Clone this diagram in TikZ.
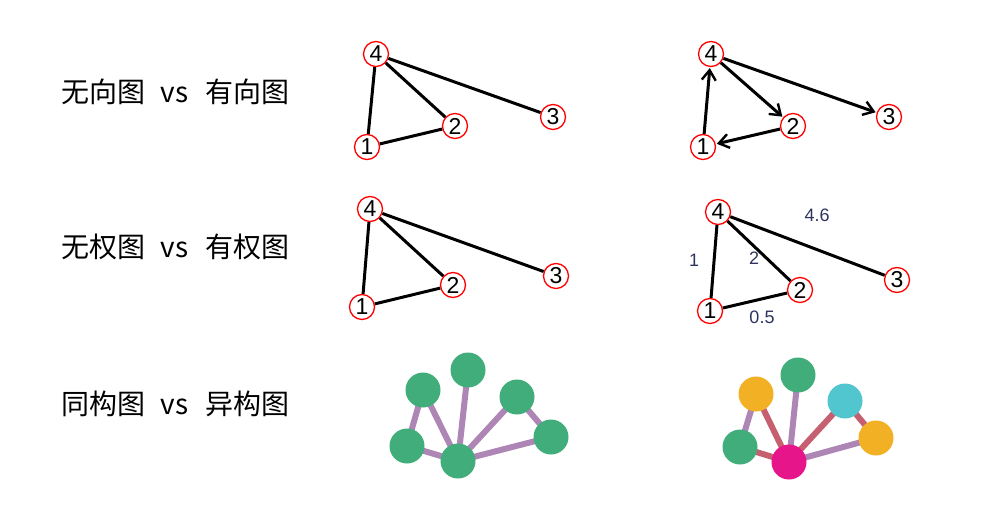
\documentclass[tikz,border=0pt]{standalone}
\usepackage{fontspec}
\setmainfont{Liberation Sans}
\newfontfamily\cjk{Noto Sans CJK SC}
\usetikzlibrary{arrows.meta}
\definecolor{gnode}{HTML}{41AD7A}
\definecolor{pedge}{HTML}{AE86B6}
\definecolor{redge}{HTML}{C65F70}
\definecolor{ynode}{HTML}{F2B124}
\definecolor{cnode}{HTML}{52C6CF}
\definecolor{mnode}{HTML}{E7158A}
\definecolor{wlab}{HTML}{2E3460}
\tikzset{
  vx/.style={circle,draw=red,line width=1.3pt,fill=white,minimum size=25pt,inner sep=0pt,font=\fontsize{23}{23}\selectfont},
  ed/.style={line width=3pt,black},
  ar/.style={ed,-{Straight Barb[length=10pt,width=14pt,line width=2.4pt]},shorten >=1pt},
  title/.style={anchor=west,font=\cjk\fontsize{28}{28}\selectfont},
  wl/.style={text=wlab,font=\fontsize{18}{18}\selectfont},
  ball/.style={circle,minimum size=35pt,inner sep=0pt},
  pe/.style={line width=6pt,pedge},
  re/.style={line width=6pt,redge}
}
\newcommand{\vsgap}[3]{#1\hspace{15pt}vs\hspace{17pt}#3}
\begin{document}
\begin{tikzpicture}[x=1pt,y=-1pt]
\useasboundingbox (0,0) rectangle (982,532);
% titles
\node[title] (t1) at (58,92) {\vsgap{无向图}{}{有向图}};
\node[title] (t2) at (58,247) {\vsgap{无权图}{}{有权图}};
\node[title] (t3) at (58,404) {\vsgap{同构图}{}{异构图}};
% undirected
\node[vx] (a4) at (376,54) {4};
\node[vx] (a1) at (367,147) {1};
\node[vx] (a2) at (455,126) {2};
\node[vx] (a3) at (553,117) {3};
\draw[ed] (a4)--(a1); \draw[ed] (a4)--(a2); \draw[ed] (a4)--(a3); \draw[ed] (a1)--(a2);
% directed
\node[vx] (b4) at (711,54) {4};
\node[vx] (b1) at (703,147) {1};
\node[vx] (b2) at (793,126) {2};
\node[vx] (b3) at (889,117) {3};
\draw[ar] (b1)--(b4); \draw[ar] (b4)--(b2); \draw[ar] (b4)--(b3); \draw[ar] (b2)--(b1);
% unweighted
\node[vx] (c4) at (370,209) {4};
\node[vx] (c1) at (362,307) {1};
\node[vx] (c2) at (453,285) {2};
\node[vx] (c3) at (556,276) {3};
\draw[ed] (c4)--(c1); \draw[ed] (c4)--(c2); \draw[ed] (c4)--(c3); \draw[ed] (c1)--(c2);
% weighted
\node[vx] (d4) at (718,212) {4};
\node[vx] (d1) at (710,311) {1};
\node[vx] (d2) at (800,290) {2};
\node[vx] (d3) at (897,280) {3};
\draw[ed] (d4)--(d1); \draw[ed] (d4)--(d2); \draw[ed] (d4)--(d3); \draw[ed] (d1)--(d2);
\node[wl] (w1) at (817,215) {4.6};
\node[wl] (w2) at (694,260) {1};
\node[wl] (w3) at (754,258) {2};
\node[wl] (w4) at (762,317) {0.5};
% homogeneous
\coordinate (hA) at (423,390);
\coordinate (hB) at (468,370);
\coordinate (hC) at (517,397);
\coordinate (hD) at (407,446);
\coordinate (hE) at (458,461);
\coordinate (hF) at (551,437);
\draw[pe] (hD)--(hA); \draw[pe] (hA)--(hE); \draw[pe] (hB)--(hE); \draw[pe] (hC)--(hE);
\draw[pe] (hC)--(hF); \draw[pe] (hE)--(hF); \draw[pe] (hD)--(hE);
\node[ball,fill=gnode] (nA) at (hA) {};
\node[ball,fill=gnode] (nB) at (hB) {};
\node[ball,fill=gnode] (nC) at (hC) {};
\node[ball,fill=gnode] (nD) at (hD) {};
\node[ball,fill=gnode] (nE) at (hE) {};
\node[ball,fill=gnode] (nF) at (hF) {};
% heterogeneous
\coordinate (gA) at (756,394);
\coordinate (gB) at (798,375);
\coordinate (gC) at (845,401);
\coordinate (gD) at (740,447);
\coordinate (gE) at (789,462);
\coordinate (gF) at (876,438);
\draw[pe] (gD)--(gA); \draw[re] (gA)--(gE); \draw[pe] (gB)--(gE); \draw[re] (gC)--(gE);
\draw[re] (gC)--(gF); \draw[pe] (gE)--(gF); \draw[re] (gD)--(gE);
\node[ball,fill=ynode] (mA) at (gA) {};
\node[ball,fill=gnode] (mB) at (gB) {};
\node[ball,fill=cnode] (mC) at (gC) {};
\node[ball,fill=gnode] (mD) at (gD) {};
\node[ball,fill=mnode] (mE) at (gE) {};
\node[ball,fill=ynode] (mF) at (gF) {};
\end{tikzpicture}
\end{document}
